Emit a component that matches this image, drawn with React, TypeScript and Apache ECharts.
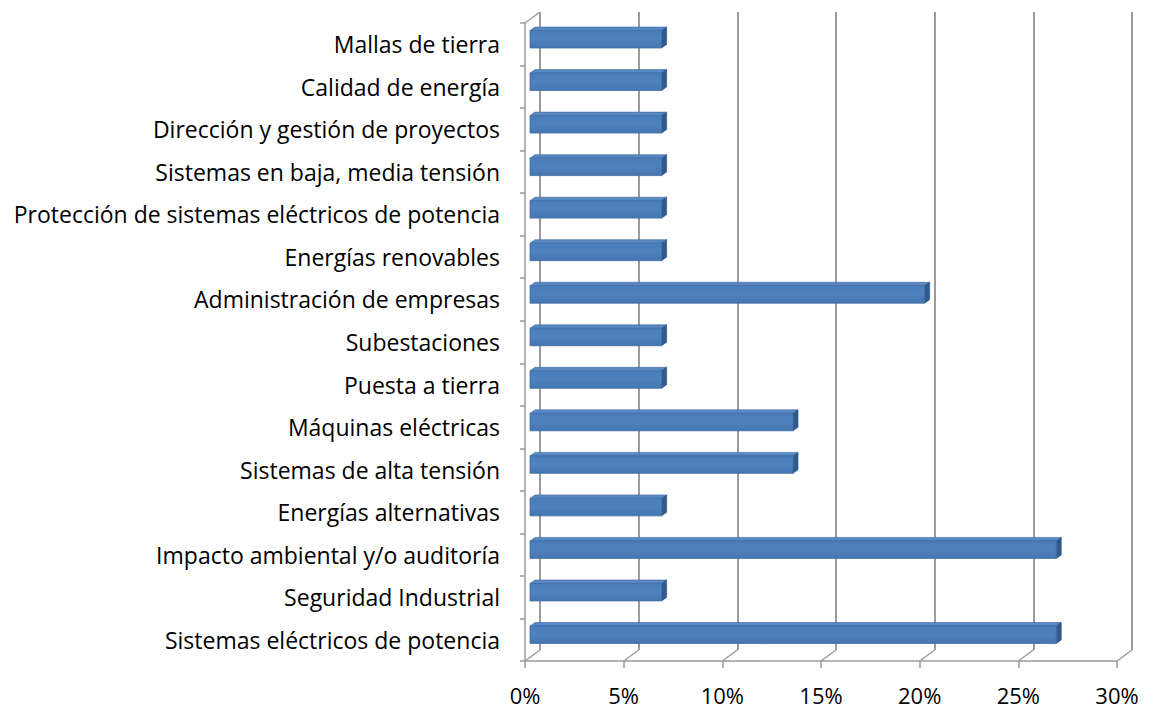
import React, { useEffect, useRef } from "react";
import * as echarts from "echarts";

const categories: string[] = [
  "Mallas de tierra",
  "Calidad de energía",
  "Dirección y gestión de proyectos",
  "Sistemas en baja, media tensión",
  "Protección de sistemas eléctricos de potencia",
  "Energías renovables",
  "Administración de empresas",
  "Subestaciones",
  "Puesta a tierra",
  "Máquinas eléctricas",
  "Sistemas de alta tensión",
  "Energías alternativas",
  "Impacto ambiental y/o auditoría",
  "Seguridad Industrial",
  "Sistemas eléctricos de potencia",
];

const values: number[] = [
  6.67, 6.67, 6.67, 6.67, 6.67, 6.67, 20, 6.67, 6.67, 13.33, 13.33, 6.67, 26.67, 6.67, 26.67,
];

const xTicks: number[] = [0, 5, 10, 15, 20, 25, 30];

const FONT = "Open Sans";
const GRID_COLOR = "#9b9b9b";

export default function App() {
  const ref = useRef<HTMLDivElement>(null);

  useEffect(() => {
    if (!ref.current) return;
    const chart = echarts.init(ref.current, null, { renderer: "svg" });
    const DX = 15;
    const DY = 11;

    const option: any = {
      animation: false,
      backgroundColor: "#ffffff",
      textStyle: { fontFamily: FONT },
      grid: [
        { left: 525, right: 34, top: 23, bottom: 48 },
        { left: 540, right: 19, top: 12, bottom: 59 },
        { left: 530, right: 29, top: 18, bottom: 53 },
      ],
      xAxis: [
        {
          gridIndex: 0,
          type: "value",
          min: 0,
          max: 30,
          interval: 5,
          axisLine: { show: true, lineStyle: { color: GRID_COLOR, width: 1.5 } },
          axisTick: { show: true, length: 7, lineStyle: { color: GRID_COLOR, width: 1.5 } },
          splitLine: { show: false },
          axisLabel: {
            formatter: "{value}%",
            fontSize: 22,
            color: "#000",
            fontFamily: FONT,
            margin: 23,
          },
        },
        {
          gridIndex: 1,
          type: "value",
          min: 0,
          max: 30,
          interval: 5,
          axisLine: { show: false },
          axisTick: { show: false },
          axisLabel: { show: false },
          splitLine: { show: true, lineStyle: { color: GRID_COLOR, width: 2 } },
        },
        {
          gridIndex: 2,
          type: "value",
          min: 0,
          max: 30,
          interval: 5,
          show: false,
        },
      ],
      yAxis: [
        {
          gridIndex: 0,
          type: "category",
          data: categories,
          inverse: true,
          axisLine: { show: true, lineStyle: { color: GRID_COLOR, width: 1.5 } },
          axisTick: { show: true, length: 5, alignWithLabel: false, lineStyle: { color: GRID_COLOR, width: 1.5 } },
          splitLine: { show: false },
          axisLabel: {
            fontSize: 23,
            color: "#000",
            fontFamily: FONT,
            margin: 25,
          },
        },
        {
          gridIndex: 1,
          type: "value",
          min: 0,
          max: 1,
          show: false,
        },
        {
          gridIndex: 2,
          type: "category",
          data: categories,
          inverse: true,
          show: false,
        },
      ],
      series: [
        {
          type: "custom",
          name: "floor",
          xAxisIndex: 0,
          yAxisIndex: 0,
          silent: true,
          data: xTicks.map((v) => [v, 0]),
          renderItem: (params: any, api: any) => {
            const cs = params.coordSys;
            const x = api.coord([api.value(0), 0])[0];
            const yb = cs.y + cs.height;
            const style = { stroke: GRID_COLOR, lineWidth: 1.5 };
            const children: any[] = [
              { type: "line", shape: { x1: x, y1: yb, x2: x + DX, y2: yb - DY }, style },
            ];
            if (api.value(0) === 0) {
              children.push({
                type: "line",
                shape: { x1: x, y1: cs.y, x2: x + DX, y2: cs.y - DY },
                style,
              });
            }
            return { type: "group", children };
          },
        },
        {
          type: "custom",
          name: "bars",
          xAxisIndex: 2,
          yAxisIndex: 2,
          data: values.map((v, i) => [v, i]),
          encode: { x: 0, y: 1 },
          renderItem: (params: any, api: any) => {
            const v = api.value(0);
            const idx = api.value(1);
            const start = api.coord([0, idx]);
            const end = api.coord([v, idx]);
            const band = api.size([0, 1])[1];
            const h = band * 0.41;
            const x0 = start[0];
            const x1 = end[0];
            const y0 = start[1] - h / 2;
            const y1 = start[1] + h / 2;
            const d = 5;
            const dy = 3.5;
            return {
              type: "group",
              children: [
                {
                  type: "polygon",
                  shape: { points: [[x0, y0], [x0 + d, y0 - dy], [x1 + d, y0 - dy], [x1, y0]] },
                  style: { fill: "#5a88c2", stroke: "#3d6aa2", lineWidth: 0.6 },
                },
                {
                  type: "polygon",
                  shape: { points: [[x1, y0], [x1 + d, y0 - dy], [x1 + d, y1 - dy], [x1, y1]] },
                  style: { fill: "#2f5a8e", stroke: "#2a507f", lineWidth: 0.6 },
                },
                {
                  type: "rect",
                  shape: { x: x0, y: y0, width: x1 - x0, height: h },
                  style: {
                    fill: new echarts.graphic.LinearGradient(0, 0, 0, 1, [
                      { offset: 0, color: "#4a7dbb" },
                      { offset: 0.5, color: "#4f81bd" },
                      { offset: 1, color: "#4676b1" },
                    ]),
                    stroke: "#3e6ca5",
                    lineWidth: 0.8,
                  },
                },
              ],
            };
          },
        },
      ],
    };

    chart.setOption(option);
    return () => chart.dispose();
  }, []);

  return (
    <div
      ref={ref}
      style={{ position: "fixed", left: 0, top: 0, width: 1151, height: 709 }}
    />
  );
}
